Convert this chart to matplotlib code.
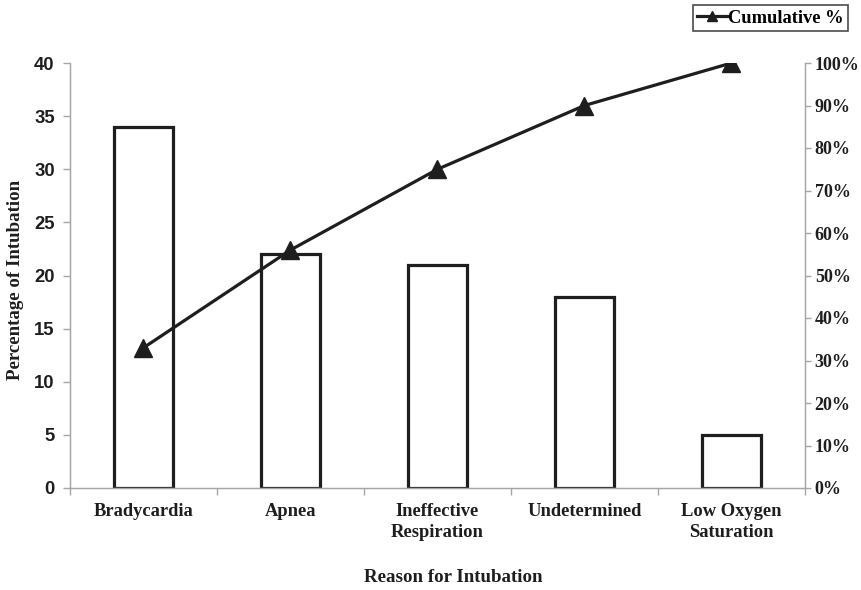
import matplotlib
matplotlib.use("Agg")
import matplotlib.pyplot as plt
from matplotlib.ticker import PercentFormatter, FixedLocator
import numpy as np

# Reasons for intubation and their share of cases
categories = ["Bradycardia", "Apnea", "Ineffective\nRespiration",
              "Undetermined", "Low Oxygen\nSaturation"]
percent_intubation = [34, 22, 21, 18, 5]
cumulative_pct = [33, 56, 75, 90, 100]

left_ticks = [0, 5, 10, 15, 20, 25, 30, 35, 40]
right_ticks = [0, 10, 20, 30, 40, 50, 60, 70, 80, 90, 100]

SERIF = "Liberation Serif"
SANS = "Liberation Sans"
GRID_GREY = "#a6a6a6"
INK = "#1e1e1e"

fig = plt.figure(figsize=(8.62, 5.90), dpi=100)
ax = fig.add_axes([70 / 862, 1 - 488 / 590, (805 - 70) / 862, (488 - 63) / 590])

x = np.arange(len(categories))
ax.bar(x, percent_intubation, width=0.4, facecolor="white",
       edgecolor=INK, linewidth=2.3, zorder=2)

ax.set_xlim(-0.5, len(categories) - 0.5)
ax.set_ylim(0, 40)
ax.set_yticks(left_ticks)
ax.set_yticklabels([str(t) for t in left_ticks], fontfamily=SANS,
                   fontweight="bold", fontsize=13.3, color=INK)

# category labels centred, tick marks on the category boundaries
ax.set_xticks(x)
ax.set_xticklabels(categories, fontfamily=SERIF, fontweight="bold",
                   fontsize=13.3, color=INK, linespacing=1.25)
ax.tick_params(axis="x", which="major", length=0, pad=11)
ax.xaxis.set_minor_locator(FixedLocator(np.arange(-0.5, len(categories), 1.0)))
ax.tick_params(axis="x", which="minor", length=5, color=GRID_GREY, width=1)
ax.tick_params(axis="y", length=5, color=GRID_GREY, width=1, pad=6)

for side in ("left", "bottom", "right"):
    ax.spines[side].set_color(GRID_GREY)
    ax.spines[side].set_linewidth(1)
ax.spines["top"].set_visible(False)

ax.set_ylabel("Percentage of Intubation", fontfamily=SERIF, fontweight="bold",
              fontsize=13.6, color=INK)
ax.yaxis.set_label_coords(-(70 - 24) / 735, 0.49)
ax.set_xlabel("Reason for Intubation", fontfamily=SERIF, fontweight="bold",
              fontsize=13.6, color=INK)
ax.xaxis.set_label_coords((453 - 70) / 735, -(578 - 488) / 425)
ax.xaxis.label.set_verticalalignment("center")

# cumulative percentage on the secondary axis
ax2 = ax.twinx()
line, = ax2.plot(x, cumulative_pct, color=INK, linewidth=2.3,
                 marker="^", markersize=13, markerfacecolor=INK,
                 markeredgecolor=INK, zorder=3)
ax2.set_ylim(0, 100)
ax2.set_yticks(right_ticks)
ax2.yaxis.set_major_formatter(PercentFormatter(decimals=0))
for lab in ax2.get_yticklabels():
    lab.set_fontfamily(SERIF)
    lab.set_fontweight("bold")
    lab.set_fontsize(13)
    lab.set_color(INK)
ax2.tick_params(axis="y", length=4, color=GRID_GREY, width=1, pad=3)
for side in ("left", "bottom", "right"):
    ax2.spines[side].set_color(GRID_GREY)
ax2.spines["top"].set_visible(False)

leg = fig.legend([line], ["Cumulative %"], loc="upper right",
                 bbox_to_anchor=(848 / 862, 1 - 5 / 590),
                 prop={"family": SERIF, "weight": "bold", "size": 13.3},
                 frameon=True, fancybox=False, handlelength=1.6,
                 handletextpad=0.05, borderpad=0.25, borderaxespad=0,
                 markerscale=0.6)
leg.get_frame().set_edgecolor(INK)
leg.get_frame().set_linewidth(1.2)

fig.savefig("out.png", dpi=100, facecolor="white")
